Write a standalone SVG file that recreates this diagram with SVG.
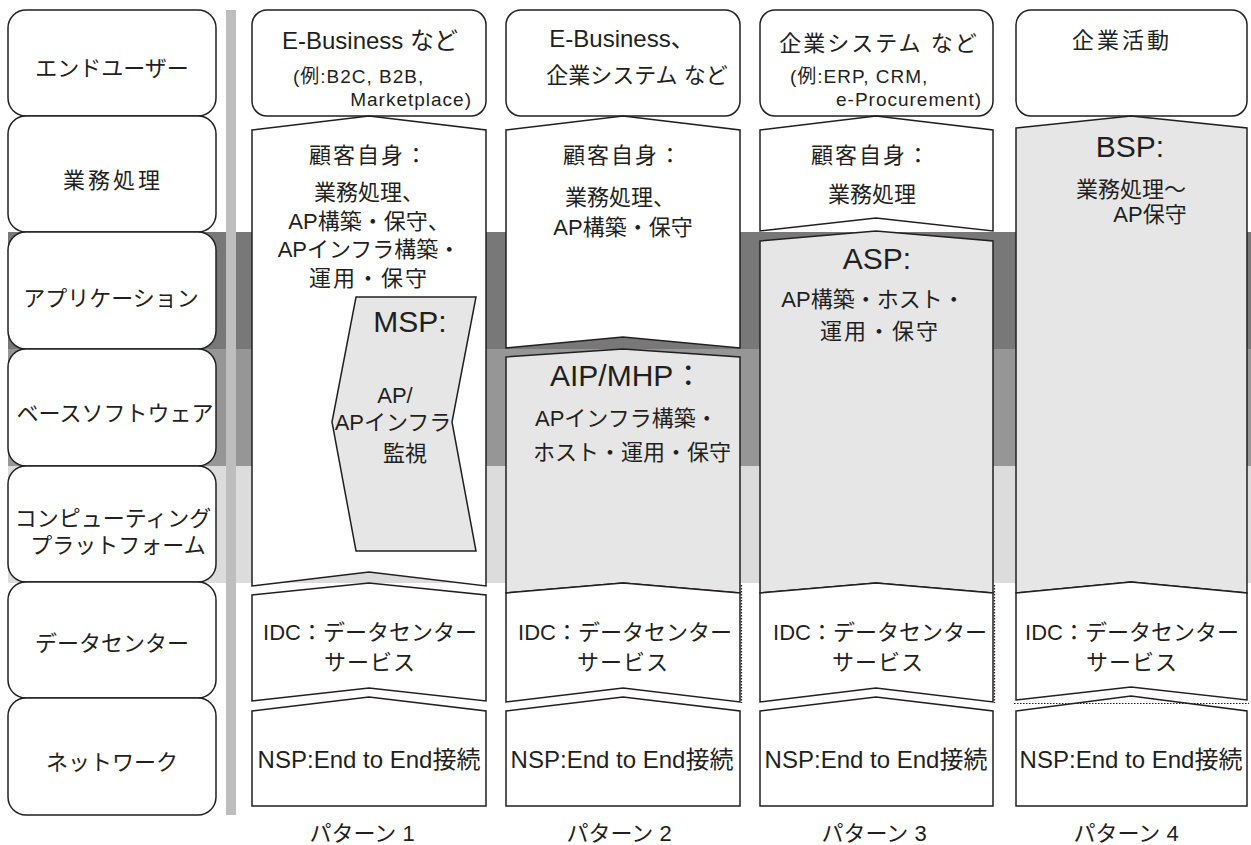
<svg xmlns="http://www.w3.org/2000/svg" width="1251" height="845" viewBox="0 0 1251 845">
<style>
text{font-family:"Liberation Sans","Noto Sans CJK JP",sans-serif;fill:#231f20;}
.lb{font-size:22px;text-anchor:middle;}
.c{text-anchor:middle;}
.s22{font-size:22px;}
.s24{font-size:24px;}
.s17{font-size:19px;letter-spacing:1px;}
.s30{font-size:30px;}
.box{fill:#fff;stroke:#231f20;stroke-width:1.5;}
.wh{fill:#fff;stroke:#231f20;stroke-width:1.5;stroke-linejoin:miter;}
.gr{fill:#e6e6e6;stroke:#231f20;stroke-width:1.5;stroke-linejoin:miter;}
.dot{fill:none;stroke:#231f20;stroke-width:1.2;stroke-dasharray:1.5 1.5;}
</style>
<g id="background">
<rect x="8" y="232" width="1243" height="117" fill="#787878"/>
<rect x="8" y="349" width="1243" height="117" fill="#969696"/>
<rect x="8" y="466" width="1243" height="117" fill="#dcdcdc"/>
<rect x="226" y="10" width="10" height="805" fill="#bebebe"/>
</g>
<g id="layer-labels">
<g id="lbl-enduser"><rect class="box" x="8" y="10" width="208" height="106" rx="18"/><text class="lb" x="112" y="76">エンドユーザー</text></g>
<g id="lbl-gyomu"><rect class="box" x="8" y="116" width="208" height="116" rx="18"/><text class="lb" x="113" y="188" letter-spacing="3">業務処理</text></g>
<g id="lbl-app"><rect class="box" x="8" y="232" width="208" height="117" rx="18"/><text class="lb" x="111" y="306">アプリケーション</text></g>
<g id="lbl-base"><rect class="box" x="8" y="349" width="208" height="117" rx="18"/><text class="lb" x="115" y="421">ベースソフトウェア</text></g>
<g id="lbl-platform"><rect class="box" x="8" y="466" width="208" height="116" rx="18"/><text class="lb" x="113" y="526">コンピューティング</text><text class="lb" x="118" y="553">プラットフォーム</text></g>
<g id="lbl-dc"><rect class="box" x="8" y="582" width="208" height="116" rx="18"/><text class="lb" x="112" y="651">データセンター</text></g>
<g id="lbl-nw"><rect class="box" x="8" y="698" width="208" height="117" rx="18"/><text class="lb" x="112" y="770">ネットワーク</text></g>
</g>
<g id="pattern1">
<g id="p1-top"><rect class="box" x="252" y="10" width="234" height="106" rx="15"/>
<text class="s24 c" x="370" y="49">E-Business など</text>
<text class="s17" x="293" y="83">(例:B2C, B2B,</text>
<text class="s17" x="472" y="106" text-anchor="end">Marketplace)</text></g>
<g id="p1-customer"><polygon class="wh" points="252,130 369,116 486,130 486,586 369,572 252,586"/>
<text class="s22 c" x="369" y="163" letter-spacing="2">顧客自身：</text>
<text class="s22 c" x="369" y="200">業務処理、</text>
<text class="s22 c" x="369" y="229">AP構築・保守、</text>
<text class="s22 c" x="369" y="257">APインフラ構築・</text>
<text class="s22 c" x="369" y="286" letter-spacing="2">運用・保守</text></g>
<g id="p1-msp"><polygon class="gr" points="356,297 476,297 452,422 476,551 356,551 332,422"/>
<text class="s30 c" x="410" y="332">MSP:</text>
<text class="s22 c" x="395" y="403">AP/</text>
<text class="s22 c" x="393" y="430">APインフラ</text>
<text class="s22 c" x="405" y="461">監視</text></g>
<g id="p1-idc"><polygon class="wh" points="252,595 369,583 486,595 486,701 369,688 252,701"/>
<text class="s22 c" x="370" y="640">IDC：データセンター</text>
<text class="s22 c" x="370" y="670" letter-spacing="1">サービス</text></g>
<g id="p1-nsp"><polygon class="wh" points="252,711 369,697 486,711 486,806 252,806"/>
<text class="s24 c" x="369" y="768">NSP:End to End接続</text></g>
<text class="s22 c" x="362" y="841">パターン 1</text>
</g>
<g id="pattern2">
<g id="p2-top"><rect class="box" x="506" y="10" width="234" height="106" rx="15"/>
<text class="s24 c" x="622" y="47">E-Business、</text>
<text class="s22 c" x="637" y="83">企業システム など</text></g>
<g id="p2-customer"><polygon class="wh" points="506,130 623,116 740,130 740,348 623,337 506,348"/>
<text class="s22 c" x="623" y="163" letter-spacing="2">顧客自身：</text>
<text class="s22 c" x="620" y="205">業務処理、</text>
<text class="s22 c" x="623" y="235">AP構築・保守</text></g>
<g id="p2-aip"><polygon class="gr" points="506,357 623,349 740,357 740,593 623,583 506,593"/>
<text class="s30" x="550" y="386">AIP/MHP：</text>
<text class="s22" x="535" y="426">APインフラ構築・</text>
<text class="s22" x="533" y="460">ホスト・運用・保守</text></g>
<g id="p2-idc"><polygon class="wh" points="506,593 623,583 740,593 740,702 623,688 506,702"/>
<text class="s22 c" x="625" y="640">IDC：データセンター</text>
<text class="s22 c" x="623" y="670" letter-spacing="1">サービス</text></g>
<g id="p2-nsp"><polygon class="wh" points="506,711 623,697 740,711 740,806 506,806"/>
<text class="s24 c" x="622" y="768">NSP:End to End接続</text></g>
<text class="s22 c" x="619" y="841">パターン 2</text>
</g>
<g id="pattern3">
<g id="p3-top"><rect class="box" x="760" y="10" width="233" height="106" rx="15"/>
<text class="s22 c" x="879" y="51" letter-spacing="2">企業システム など</text>
<text class="s17" x="790" y="83">(例:ERP, CRM,</text>
<text class="s17" x="982" y="106" text-anchor="end">e-Procurement)</text></g>
<g id="p3-customer"><polygon class="wh" points="760,130 876,116 993,130 993,231 876,218 760,231"/>
<text class="s22 c" x="871" y="163" letter-spacing="2">顧客自身：</text>
<text class="s22 c" x="872" y="202">業務処理</text></g>
<g id="p3-asp"><polygon class="gr" points="760,241 876,231 993,241 993,593 876,583 760,593"/>
<text class="s30 c" x="877" y="269">ASP:</text>
<text class="s22 c" x="873" y="307">AP構築・ホスト・</text>
<text class="s22 c" x="880" y="339" letter-spacing="2">運用・保守</text></g>
<g id="p3-idc"><polygon class="wh" points="760,593 876,583 993,593 993,702 876,688 760,702"/>
<text class="s22 c" x="880" y="640">IDC：データセンター</text>
<text class="s22 c" x="878" y="670" letter-spacing="1">サービス</text></g>
<g id="p3-nsp"><polygon class="wh" points="760,711 876,697 993,711 993,806 760,806"/>
<text class="s24 c" x="876" y="768">NSP:End to End接続</text></g>
<text class="s22 c" x="874" y="841">パターン 3</text>
</g>
<g id="pattern4">
<g id="p4-top"><rect class="box" x="1016" y="10" width="231" height="106" rx="15"/>
<text class="s22 c" x="1122" y="48" letter-spacing="3">企業活動</text></g>
<g id="p4-bsp"><polygon class="gr" points="1016,128 1131,116 1247,128 1247,593 1131,582 1016,593"/>
<text class="s30 c" x="1130" y="157">BSP:</text>
<text class="s22 c" x="1131" y="197">業務処理〜</text>
<text class="s22 c" x="1150" y="222">AP保守</text></g>
<g id="p4-idc"><polygon class="wh" points="1016,593 1131,582 1247,593 1247,700 1131,687 1016,700"/>
<text class="s22 c" x="1132" y="640">IDC：データセンター</text>
<text class="s22 c" x="1132" y="670" letter-spacing="1">サービス</text></g>
<g id="p4-nsp"><polygon class="wh" points="1016,711 1131,696 1247,711 1247,806 1016,806"/>
<text class="s24 c" x="1131" y="768">NSP:End to End接続</text></g>
<text class="s22 c" x="1126" y="841">パターン 4</text>
</g>
<g id="connectors">
<line class="dot" x1="741.5" y1="585" x2="741.5" y2="703"/>
<line class="dot" x1="994.5" y1="585" x2="994.5" y2="703"/>
<line class="dot" x1="1014" y1="703.5" x2="1249" y2="703.5"/>
</g>
</svg>
